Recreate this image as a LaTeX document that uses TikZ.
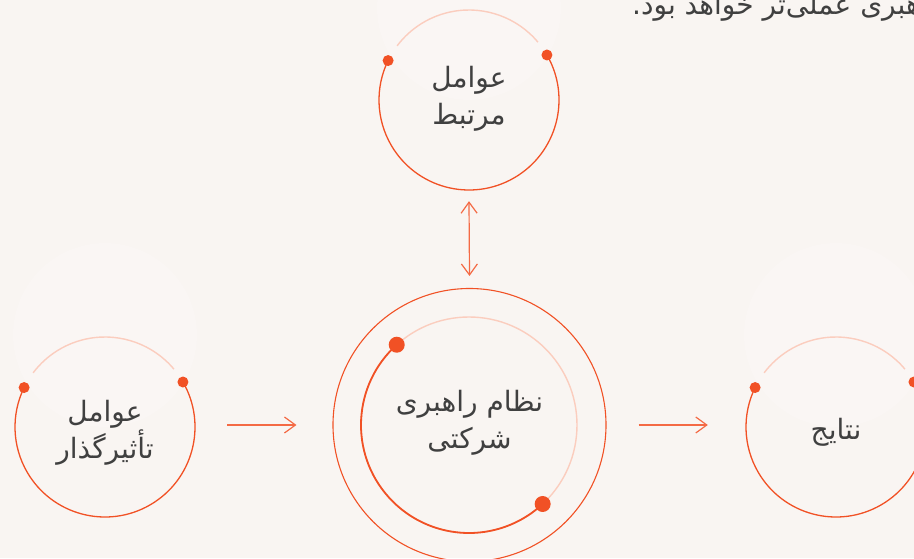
\documentclass[tikz,border=0pt]{standalone}
\usepackage{fontspec}
\TeXXeTstate=1
\newfontfamily\arabicfont[Script=Arabic]{DejaVu Sans}
\usetikzlibrary{arrows.meta}
\definecolor{bgc}{HTML}{F9F5F2}
\definecolor{org}{HTML}{F15125}
\definecolor{pnk}{HTML}{FBCDBE}
\definecolor{arr}{HTML}{F46A45}
\definecolor{txt}{HTML}{404040}
\definecolor{halo}{HTML}{FAF6F4}
\tikzset{
  chev/.tip={Straight Barb[length=11pt,width=16pt]},
  ring/.style={circle, inner sep=0pt, minimum size=180pt},
  bigring/.style={circle, inner sep=0pt, minimum size=273pt, draw=org, line width=1.1pt},
  lbl/.style={text=txt, font=\arabicfont\fontsize{28}{37}\selectfont, align=center, inner sep=0pt},
  pinkarc/.style={draw=pnk, line width=1.4pt},
  orgarc/.style={draw=org, line width=1.3pt},
  dot/.style={fill=org},
  conn/.style={draw=arr, line width=1.2pt}
}
\begin{document}
\begin{tikzpicture}[x=1pt,y=1pt]
\fill[bgc] (0,0) rectangle (914,558);
\useasboundingbox (0,0) rectangle (914,558);
% faint halos
\fill[halo] (105,223) circle (92);
\fill[halo] (836,223) circle (92);
\fill[halo] (469,550) circle (92);
% nodes
\node[ring] (inf) at (105,131) {};
\node[ring] (rel) at (469,458) {};
\node[ring] (res) at (836,131) {};
\node[bigring] (core) at (469.5,133) {};
\node[ring, minimum size=216pt] (inner) at (469,133) {};
% small rings
\foreach \n in {inf,rel,res}{
  \draw[pinkarc] ([shift={(40:90)}]\n.center) arc[start angle=40, end angle=143, radius=90];
  \draw[orgarc] ([shift={(30:90)}]\n.center) arc[start angle=30, end angle=-206, radius=90];
  \fill[dot] ([shift={(30:90)}]\n.center) circle (5.5);
  \fill[dot] ([shift={(154:90)}]\n.center) circle (5.5);
}
% inner ring of core
\draw[pinkarc] (inner.center) circle (108);
\draw[draw=org, line width=1.8pt] ([shift={(132:108)}]inner.center) arc[start angle=132, end angle=313, radius=108];
\fill[dot] ([shift={(132:108)}]inner.center) circle (8);
\fill[dot] ([shift={(313:108)}]inner.center) circle (8);
% labels
\node[lbl] (tinf) at ([yshift=-6]inf.center) {\beginR عوامل\endR\\\beginR تأثیرگذار\endR};
\node[lbl] (trel) at ([yshift=1]rel.center) {\beginR عوامل\endR\\\beginR مرتبط\endR};
\node[lbl] (tcore) at ([yshift=2]core.center) {\beginR نظام راهبری\endR\\\beginR شرکتی\endR};
\node[lbl] (tres) at ([yshift=-5]res.center) {\beginR نتایج\endR};
\node[lbl, anchor=base west] (toptext) at (632,543) {\beginR رهبری عملی‌تر خواهد بود.\endR};
% connectors
\draw[conn, -chev] ([xshift=32,yshift=2]inf.east) -- ([xshift=-36]core.west);
\draw[conn, -chev] ([xshift=32]core.east) -- ([xshift=-38,yshift=2]res.west);
\draw[conn, chev-chev] ([yshift=-11]rel.south) -- ([yshift=12]core.north);
\end{tikzpicture}
\end{document}
